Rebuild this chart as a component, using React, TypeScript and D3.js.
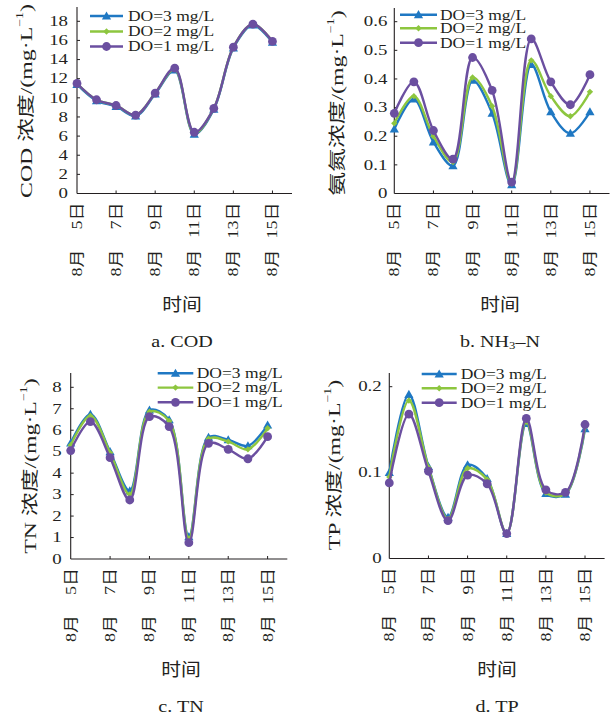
import React from 'react';
import * as d3 from 'd3';

// ---------- data ----------
const days = [5, 6, 7, 8, 9, 10, 11, 12, 13, 14, 15];
const tickDays = [5, 7, 9, 11, 13, 15];
const seriesNames = ['DO=3 mg/L', 'DO=2 mg/L', 'DO=1 mg/L'];

const codDO3 = [11.4, 9.7, 9.1, 8.1, 10.4, 12.9, 6.2, 8.8, 15.2, 17.6, 15.8];
const codDO2 = [11.5, 9.8, 9.2, 8.2, 10.5, 13.0, 6.3, 8.9, 15.3, 17.7, 15.9];
const codDO1 = [11.5, 9.8, 9.2, 8.2, 10.5, 13.1, 6.4, 8.9, 15.3, 17.7, 15.9];

const nhDO3 = [0.225, 0.33, 0.18, 0.097, 0.395, 0.28, 0.03, 0.45, 0.285, 0.21, 0.285];
const nhDO2 = [0.245, 0.34, 0.2, 0.11, 0.405, 0.305, 0.035, 0.465, 0.34, 0.27, 0.355];
const nhDO1 = [0.28, 0.39, 0.22, 0.12, 0.475, 0.36, 0.04, 0.54, 0.39, 0.31, 0.415];

const tnDO3 = [5.4, 6.74, 5.0, 3.17, 6.94, 6.48, 1.04, 5.67, 5.55, 5.27, 6.24];
const tnDO2 = [5.3, 6.66, 4.95, 3.01, 6.86, 6.43, 0.96, 5.6, 5.47, 5.11, 6.09];
const tnDO1 = [5.05, 6.4, 4.72, 2.75, 6.63, 6.17, 0.76, 5.39, 5.11, 4.67, 5.7];

const tpDO3 = [0.1, 0.191, 0.107, 0.048, 0.109, 0.093, 0.029, 0.157, 0.0755, 0.0747, 0.151];
const tpDO2 = [0.095, 0.184, 0.106, 0.046, 0.105, 0.092, 0.029, 0.159, 0.0767, 0.0755, 0.153];
const tpDO1 = [0.088, 0.168, 0.1016, 0.044, 0.097, 0.087, 0.029, 0.163, 0.08, 0.077, 0.156];

const codTicks = [0, 2, 4, 6, 8, 10, 12, 14, 16, 18];
const nhTicks = [0, 0.1, 0.2, 0.3, 0.4, 0.5, 0.6];
const tnTicks = [0, 1, 2, 3, 4, 5, 6, 7, 8];
const tpTicks = [0, 0.1, 0.2];

const xAxisTitle = '时间';

// ---------- styles ----------
const COLORS = ['#1f78c3', '#8dc63f', '#6b4fa0'];
const SERIF = "'Liberation Serif', 'Times New Roman', 'Noto Sans CJK SC', serif";
const INK = '#231f20';

type Panel = {
  series: number[][];
  ticks: number[];
  tickFmt: (v: number) => string;
  yPrefix: string;
  caption: React.ReactNode;
  left: number; right: number; bottom: number; topTickPx: number; axisTop: number;
  tickLabelGap: number;
  yLabelX: number; yLabelY: number;
  legend: { x1: number; x2: number; tx: number; rows: number[] };
  titleX: number;
};

const panels: Panel[] = [
  {
    series: [codDO3, codDO2, codDO1], ticks: codTicks, tickFmt: (v) => String(v),
    yPrefix: 'COD 浓度/(',
    caption: <tspan>a. COD</tspan>,
    left: 77, right: 292, bottom: 193.5, topTickPx: 21.3, axisTop: 7,
    tickLabelGap: 9, yLabelX: 26, yLabelY: 101,
    legend: { x1: 90, x2: 123, tx: 128, rows: [16, 31.5, 46.5] }, titleX: 182,
  },
  {
    series: [nhDO3, nhDO2, nhDO1], ticks: nhTicks, tickFmt: (v) => (v === 0 ? '0' : v.toFixed(1)),
    yPrefix: '氨氮浓度/(',
    caption: <><tspan>b. NH</tspan><tspan dy={5} fontSize={11}>3</tspan><tspan dy={-5}>–N</tspan></>,
    left: 394.3, right: 609.5, bottom: 193.5, topTickPx: 21.7, axisTop: 8,
    tickLabelGap: 7, yLabelX: 337, yLabelY: 103,
    legend: { x1: 400, x2: 437, tx: 440, rows: [14.7, 28.3, 42.7] }, titleX: 500,
  },
  {
    series: [tnDO3, tnDO2, tnDO1], ticks: tnTicks, tickFmt: (v) => String(v),
    yPrefix: 'TN 浓度/(',
    caption: <tspan>c. TN</tspan>,
    left: 70.7, right: 287.3, bottom: 559, topTickPx: 387.3, axisTop: 373,
    tickLabelGap: 9, yLabelX: 30, yLabelY: 466,
    legend: { x1: 157.7, x2: 193.3, tx: 196.7, rows: [373.3, 387.6, 402.3] }, titleX: 181,
  },
  {
    series: [tpDO3, tpDO2, tpDO1], ticks: tpTicks, tickFmt: (v) => (v === 0 ? '0' : v.toFixed(1)),
    yPrefix: 'TP 浓度/(',
    caption: <tspan>d. TP</tspan>,
    left: 389.3, right: 604.6, bottom: 558.5, topTickPx: 386.7, axisTop: 373,
    tickLabelGap: 7.6, yLabelX: 334, yLabelY: 465,
    legend: { x1: 421.7, x2: 456.7, tx: 460.7, rows: [374, 388.3, 402.7] }, titleX: 497,
  },
];

function Marker({ kind, x, y, color }: { kind: number; x: number; y: number; color: string }) {
  if (kind === 0) {
    const s = 4.6;
    return <path d={`M${x},${y - s}L${x + s},${y + s * 0.75}L${x - s},${y + s * 0.75}Z`} fill={color} />;
  }
  if (kind === 1) {
    const s = 3.2;
    return <path d={`M${x},${y - s}L${x + s},${y}L${x},${y + s}L${x - s},${y}Z`} fill={color} />;
  }
  return <circle cx={x} cy={y} r={4.4} fill={color} />;
}

function PanelView({ p }: { p: Panel }) {
  const x = d3.scaleLinear().domain([5, 16]).range([p.left, p.right]);
  const topVal = p.ticks[p.ticks.length - 1];
  const y = d3.scaleLinear().domain([0, topVal]).range([p.bottom, p.topTickPx]);
  const line = d3
    .line<number>()
    .x((_, i) => x(days[i]))
    .y((d) => y(d))
    .curve(d3.curveCatmullRom.alpha(0.5));

  return (
    <g fontFamily={SERIF} fill={INK}>
      {/* axes */}
      <line x1={p.left} x2={p.left} y1={p.axisTop} y2={p.bottom} stroke={INK} strokeWidth={1.1} />
      <line x1={p.left} x2={p.right} y1={p.bottom} y2={p.bottom} stroke={INK} strokeWidth={1.1} />
      {p.ticks.map((t) => (
        <g key={'yt' + t}>
          {t !== 0 && <line x1={p.left} x2={p.left + 3} y1={y(t)} y2={y(t)} stroke={INK} strokeWidth={1} />}
          <text
            transform={`translate(${p.left - p.tickLabelGap},${y(t)}) scale(1.3,1)`}
            textAnchor="end" dominantBaseline="central" fontSize={14.5}
          >
            {p.tickFmt(t)}
          </text>
        </g>
      ))}
      {tickDays.map((d) => (
        <g key={'xt' + d}>
          {d !== 5 && <line x1={x(d)} x2={x(d)} y1={p.bottom} y2={p.bottom - 3} stroke={INK} strokeWidth={1} />}
          <text
            transform={`translate(${x(d)},${p.bottom + 9}) rotate(-90) scale(1.2,1)`}
            textAnchor="end" dominantBaseline="central" fontSize={15}
          >
            {d + '日'}
          </text>
          <text
            transform={`translate(${x(d)},${p.bottom + 83}) rotate(-90) scale(1.2,1)`}
            textAnchor="start" dominantBaseline="central" fontSize={15}
          >
            8月
          </text>
        </g>
      ))}
      {/* y title */}
      <text
        transform={`translate(${p.yLabelX},${p.yLabelY}) rotate(-90) scale(1.4,1)`}
        textAnchor="middle" dominantBaseline="central" fontSize={17}
      >
        <tspan>{p.yPrefix}</tspan>
        <tspan>mg·L</tspan>
        <tspan dy={-6} fontSize={10}>−1</tspan>
        <tspan dy={6}>)</tspan>
      </text>
      {/* x title & caption */}
      <text
        transform={`translate(${p.titleX},${p.bottom + 111}) scale(1.1,1)`}
        textAnchor="middle" dominantBaseline="central" fontSize={18}
      >
        {xAxisTitle}
      </text>
      <text
        transform={`translate(${p.titleX},${p.bottom + 147}) scale(1.15,1)`}
        textAnchor="middle" dominantBaseline="central" fontSize={17.5}
      >
        {p.caption}
      </text>
      {/* series */}
      {p.series.map((s, k) => (
        <g key={'s' + k}>
          <path d={line(s) || ''} fill="none" stroke={COLORS[k]} strokeWidth={2.4} />
          {s.map((v, i) => (
            <Marker key={i} kind={k} x={x(days[i])} y={y(v)} color={COLORS[k]} />
          ))}
        </g>
      ))}
      {/* legend */}
      {seriesNames.map((n, k) => (
        <g key={'lg' + k}>
          <line x1={p.legend.x1} x2={p.legend.x2} y1={p.legend.rows[k]} y2={p.legend.rows[k]} stroke={COLORS[k]} strokeWidth={2.4} />
          <Marker kind={k} x={(p.legend.x1 + p.legend.x2) / 2} y={p.legend.rows[k]} color={COLORS[k]} />
          <text
            transform={`translate(${p.legend.tx},${p.legend.rows[k]}) scale(1.25,1)`}
            dominantBaseline="central" fontSize={14}
          >
            {n}
          </text>
        </g>
      ))}
    </g>
  );
}

export default function App() {
  return (
    <svg width={611} height={718} style={{ position: 'absolute', left: 0, top: 0, background: '#fff' }}>
      <rect width={611} height={718} fill="#fff" />
      {panels.map((p, i) => (
        <PanelView key={i} p={p} />
      ))}
    </svg>
  );
}
